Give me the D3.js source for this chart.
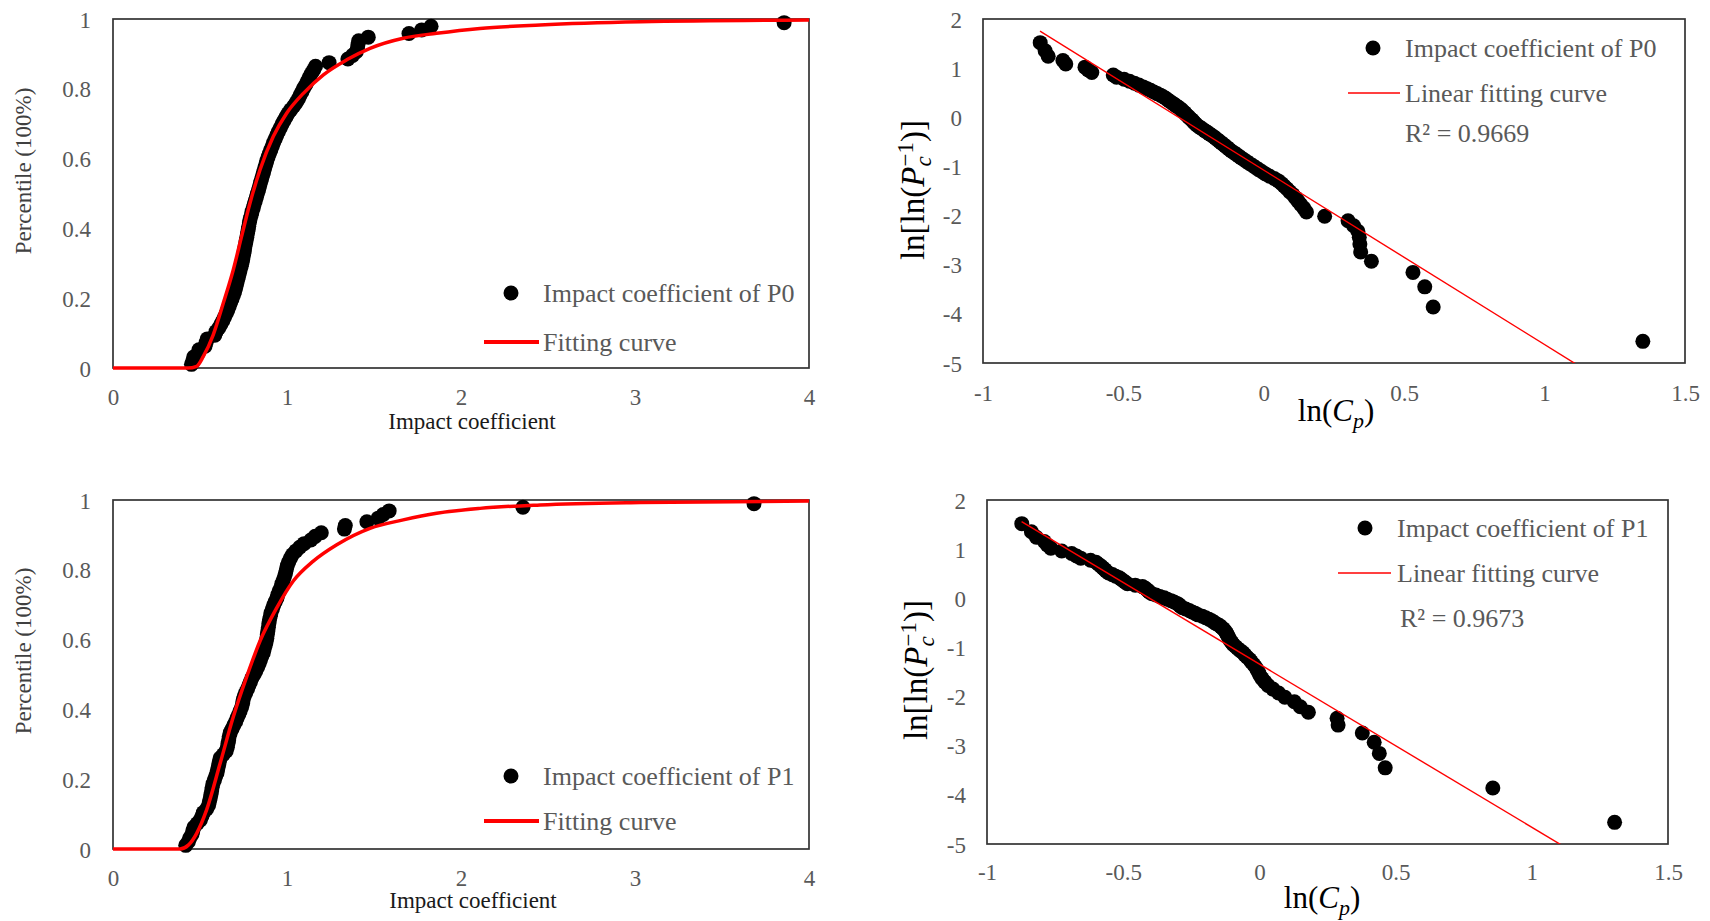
<!DOCTYPE html>
<html>
<head>
<meta charset="utf-8">
<script src="https://cdn.jsdelivr.net/npm/d3@7"></script>
<style>
  body { margin: 0; background: #fff; }
  svg { display: block; }
  text { font-family: "Liberation Serif", "Times New Roman", serif; }
</style>
</head>
<body>
<svg id="chart" width="1710" height="921"></svg>
<script>
(function () {
    // impact coefficients, sorted, P0 and P1
    const cpP0 = [0.451, 0.459, 0.464, 0.489, 0.494, 0.529, 0.535, 0.542, 0.585, 0.592,
        0.608, 0.620, 0.631, 0.641, 0.651, 0.660, 0.668, 0.676, 0.684, 0.692,
        0.699, 0.705, 0.710, 0.715, 0.721, 0.726, 0.731, 0.737, 0.742, 0.746,
        0.750, 0.754, 0.757, 0.761, 0.765, 0.769, 0.773, 0.777, 0.780, 0.784,
        0.788, 0.794, 0.799, 0.806, 0.811, 0.818, 0.824, 0.830, 0.837, 0.842,
        0.848, 0.854, 0.860, 0.866, 0.872, 0.878, 0.884, 0.891, 0.899, 0.907,
        0.915, 0.923, 0.932, 0.941, 0.950, 0.961, 0.971, 0.982, 0.994, 1.006,
        1.021, 1.038, 1.053, 1.065, 1.075, 1.086, 1.096, 1.109, 1.119, 1.129,
        1.140, 1.153, 1.164, 1.242, 1.350, 1.377, 1.398, 1.405, 1.408, 1.412,
        1.467, 1.701, 1.774, 1.828, 3.857];

    const cpP1 = [0.418, 0.433, 0.441, 0.454, 0.459, 0.465, 0.484, 0.502, 0.511, 0.519,
        0.538, 0.549, 0.554, 0.559, 0.563, 0.567, 0.570, 0.575, 0.583, 0.590,
        0.598, 0.602, 0.607, 0.611, 0.616, 0.634, 0.651, 0.657, 0.661, 0.665,
        0.668, 0.674, 0.684, 0.694, 0.705, 0.713, 0.723, 0.731, 0.739, 0.745,
        0.748, 0.754, 0.763, 0.773, 0.781, 0.790, 0.798, 0.811, 0.821, 0.831,
        0.840, 0.847, 0.855, 0.864, 0.869, 0.875, 0.880, 0.884, 0.887, 0.890,
        0.893, 0.896, 0.899, 0.904, 0.908, 0.916, 0.923, 0.932, 0.942, 0.948,
        0.956, 0.965, 0.971, 0.979, 0.986, 0.992, 0.997, 1.002, 1.010, 1.020,
        1.032, 1.051, 1.073, 1.098, 1.137, 1.162, 1.197, 1.330, 1.335, 1.459,
        1.524, 1.553, 1.587, 2.356, 3.684];

    // fitted CDF curves [impact coefficient, percentile]
    const fitCurveP0 = [[0, 0], [0.43, 0], [0.481, 0.005], [0.519, 0.033], [0.576, 0.095],
        [0.634, 0.186], [0.691, 0.281], [0.739, 0.377], [0.787, 0.472], [0.845, 0.568],
        [0.921, 0.663], [0.998, 0.730], [1.094, 0.787], [1.209, 0.840], [1.343, 0.883],
        [1.477, 0.916], [1.668, 0.945], [1.86, 0.959], [2.109, 0.973], [2.454, 0.983],
        [3.03, 0.992], [4.0, 0.997]];
    const fitCurveP1 = [[0, 0], [0.385, 0], [0.433, 0.011], [0.481, 0.045], [0.538, 0.112],
        [0.615, 0.244], [0.691, 0.378], [0.768, 0.493], [0.845, 0.596], [0.941, 0.691],
        [1.036, 0.768], [1.151, 0.825], [1.286, 0.872], [1.477, 0.919], [1.668, 0.943],
        [1.86, 0.962], [2.109, 0.976], [2.454, 0.986], [3.03, 0.993], [4.0, 0.997]];

    // linear fitting lines [ln(Cp), ln(ln(1/P))] end points
    const linFitP0 = [[-0.797, 1.754], [1.35, -5.868]];
    const linFitP1 = [[-0.873, 1.558], [1.304, -5.669]];

    const seriesNames = ["Impact coefficient of P0", "Impact coefficient of P1"];
    const r2Labels = ["R\u00B2 = 0.9669", "R\u00B2 = 0.9673"];
    const cdfXTicks = [0, 1, 2, 3, 4];
    const cdfYTicks = [0, 0.2, 0.4, 0.6, 0.8, 1];
    const lnXTicks = [-1, -0.5, 0, 0.5, 1, 1.5];
    const lnYTicks = [2, 1, 0, -1, -2, -3, -4, -5];

    const svg = d3.select("#chart");
    const fmt = d => String(d);
    const tickColor = "#595959";
    const dotR = 7.5;

    function styleAxis(g) {
        g.select(".domain").remove();
        g.attr("font-family", null).attr("font-size", null);
        g.selectAll("text").attr("fill", tickColor).style("font-size", "23px");
    }

    function drawBox(g, box) {
        g.append("rect")
            .attr("x", box.l).attr("y", box.t)
            .attr("width", box.r - box.l).attr("height", box.b - box.t)
            .attr("fill", "none").attr("stroke", "#333").attr("stroke-width", 1.7);
    }

    function cdfPanel(cfg) {
        const box = cfg.box;
        const g = svg.append("g");
        const x = d3.scaleLinear().domain([0, 4]).range([box.l, box.r]);
        const y = d3.scaleLinear().domain([0, 1]).range([box.b, box.t]);
        const pts = cfg.cp.map((c, i) => ({ c: c, p: (i + 1) / (cfg.cp.length + 1) }));

        drawBox(g, box);

        g.append("g").attr("transform", `translate(0,${box.b})`)
            .call(d3.axisBottom(x).tickValues(cdfXTicks).tickSize(0).tickFormat(fmt))
            .call(styleAxis)
            .selectAll("text").attr("y", 29).attr("dy", "0.35em");
        g.append("g").attr("transform", `translate(${box.l},0)`)
            .call(d3.axisLeft(y).tickValues(cdfYTicks).tickSize(0).tickPadding(22).tickFormat(fmt))
            .call(styleAxis)
            .selectAll("text").attr("dy", "0.35em");

        g.append("g").selectAll("circle")
            .data(pts)
            .join("circle")
            .attr("cx", d => x(d.c))
            .attr("cy", d => y(d.p))
            .attr("r", dotR)
            .attr("fill", "black");

        const line = d3.line().x(d => x(d[0])).y(d => y(d[1])).curve(d3.curveMonotoneX);
        g.append("path").datum(cfg.fit)
            .attr("d", line)
            .attr("fill", "none").attr("stroke", "#ff0000").attr("stroke-width", 3.5);

        // axis titles
        g.append("text")
            .attr("x", cfg.xTitle[0]).attr("y", cfg.xTitle[1]).attr("dy", "0.35em")
            .attr("text-anchor", "middle").attr("fill", "#1a1a1a")
            .style("font-size", "23px").text("Impact coefficient");
        g.append("text")
            .attr("transform", `translate(${cfg.yTitle[0]},${cfg.yTitle[1]}) rotate(-90)`)
            .attr("dy", "0.35em").attr("text-anchor", "middle").attr("fill", "#404040")
            .style("font-size", "23px").text("Percentile (100%)");

        // legend
        const lg = cfg.legend;
        g.append("circle").attr("cx", lg.dotX).attr("cy", lg.dotY).attr("r", dotR).attr("fill", "black");
        g.append("text").attr("x", lg.textX).attr("y", lg.dotY).attr("dy", "0.35em")
            .attr("fill", tickColor).style("font-size", "26px").text(cfg.name);
        g.append("line").attr("x1", lg.lineX1).attr("x2", lg.lineX2)
            .attr("y1", lg.lineY).attr("y2", lg.lineY)
            .attr("stroke", "#ff0000").attr("stroke-width", 4);
        g.append("text").attr("x", lg.textX).attr("y", lg.lineY).attr("dy", "0.35em")
            .attr("fill", tickColor).style("font-size", "26px").text("Fitting curve");
    }

    function lnPanel(cfg, idx) {
        const box = cfg.box;
        const g = svg.append("g");
        const x = d3.scaleLinear().domain([-1, 1.5]).range([box.l, box.r]);
        const y = d3.scaleLinear().domain([-5, 2]).range([box.b, box.t]);
        const n = cfg.cp.length;
        const pts = cfg.cp.map((c, i) => {
            const p = (i + 1) / (n + 1);
            return { lx: Math.log(c), ly: Math.log(Math.log(1 / p)) };
        });

        const clipId = "clip" + idx;
        g.append("clipPath").attr("id", clipId).append("rect")
            .attr("x", box.l).attr("y", box.t)
            .attr("width", box.r - box.l).attr("height", box.b - box.t);

        drawBox(g, box);

        g.append("g").attr("transform", `translate(0,${box.b})`)
            .call(d3.axisBottom(x).tickValues(lnXTicks).tickSize(0).tickFormat(fmt))
            .call(styleAxis)
            .selectAll("text").attr("y", cfg.xTickGap).attr("dy", "0.35em");
        g.append("g").attr("transform", `translate(${box.l},0)`)
            .call(d3.axisLeft(y).tickValues(lnYTicks).tickSize(0).tickPadding(21).tickFormat(fmt))
            .call(styleAxis)
            .selectAll("text").attr("dy", "0.35em");

        g.append("g").selectAll("circle")
            .data(pts)
            .join("circle")
            .attr("cx", d => x(d.lx))
            .attr("cy", d => y(d.ly))
            .attr("r", dotR)
            .attr("fill", "black");

        g.append("line")
            .attr("clip-path", `url(#${clipId})`)
            .attr("x1", x(cfg.lin[0][0])).attr("y1", y(cfg.lin[0][1]))
            .attr("x2", x(cfg.lin[1][0])).attr("y2", y(cfg.lin[1][1]))
            .attr("stroke", "#ff0000").attr("stroke-width", 1.4);

        // x title ln(Cp)
        const xt = g.append("text")
            .attr("x", cfg.xTitle[0]).attr("y", cfg.xTitle[1]).attr("dy", "0.35em")
            .attr("text-anchor", "middle").attr("fill", "#000").style("font-size", "31px");
        xt.append("tspan").text("ln(");
        xt.append("tspan").attr("font-style", "italic").text("C");
        xt.append("tspan").attr("font-style", "italic").style("font-size", "22px").attr("dy", 7).text("p");
        xt.append("tspan").attr("dy", -7).text(")");

        // y title ln[ln(Pc^-1)]
        const yt = g.append("text")
            .attr("transform", `translate(${cfg.yTitle[0]},${cfg.yTitle[1]}) rotate(-90)`)
            .attr("dy", "0.35em").attr("text-anchor", "middle").attr("fill", "#000")
            .style("font-size", "33px");
        yt.append("tspan").text("ln[ln(");
        yt.append("tspan").attr("font-style", "italic").text("P");
        yt.append("tspan").attr("font-style", "italic").style("font-size", "23px").attr("dy", 7).text("c");
        yt.append("tspan").style("font-size", "23px").attr("dx", -10).attr("dy", -18).text("\u22121");
        yt.append("tspan").attr("dy", 11).text(")]");

        // legend
        const lg = cfg.legend;
        g.append("circle").attr("cx", lg.dotX).attr("cy", lg.dotY).attr("r", dotR).attr("fill", "black");
        g.append("text").attr("x", lg.textX).attr("y", lg.dotY).attr("dy", "0.35em")
            .attr("fill", tickColor).style("font-size", "26px").text(cfg.name);
        g.append("line").attr("x1", lg.lineX1).attr("x2", lg.lineX2)
            .attr("y1", lg.lineY).attr("y2", lg.lineY)
            .attr("stroke", "#ff0000").attr("stroke-width", 1.4);
        g.append("text").attr("x", lg.textX).attr("y", lg.lineY).attr("dy", "0.35em")
            .attr("fill", tickColor).style("font-size", "26px").text("Linear fitting curve");
        g.append("text").attr("x", lg.r2X).attr("y", lg.r2Y).attr("dy", "0.35em")
            .attr("fill", tickColor).style("font-size", "26px").text(cfg.r2);
    }

    cdfPanel({
        box: { l: 113, t: 19, r: 809, b: 368 }, cp: cpP0, fit: fitCurveP0, name: seriesNames[0],
        xTitle: [472, 421], yTitle: [23, 171],
        legend: { dotX: 511, dotY: 293, lineX1: 484, lineX2: 539, lineY: 342, textX: 543 }
    });
    cdfPanel({
        box: { l: 113, t: 500, r: 809, b: 849 }, cp: cpP1, fit: fitCurveP1, name: seriesNames[1],
        xTitle: [473, 900], yTitle: [23, 651],
        legend: { dotX: 511, dotY: 776, lineX1: 484, lineX2: 539, lineY: 821, textX: 543 }
    });
    lnPanel({
        box: { l: 983, t: 19, r: 1685, b: 363 }, cp: cpP0, lin: linFitP0, name: seriesNames[0], r2: r2Labels[0],
        xTickGap: 30, xTitle: [1336, 410], yTitle: [912, 190],
        legend: { dotX: 1373, dotY: 48, lineX1: 1348, lineX2: 1400, lineY: 93, textX: 1405, r2X: 1405, r2Y: 133 }
    }, 0);
    lnPanel({
        box: { l: 987, t: 500, r: 1668, b: 844 }, cp: cpP1, lin: linFitP1, name: seriesNames[1], r2: r2Labels[1],
        xTickGap: 28, xTitle: [1322, 897], yTitle: [915, 670],
        legend: { dotX: 1365, dotY: 528, lineX1: 1338, lineX2: 1391, lineY: 573, textX: 1397, r2X: 1400, r2Y: 618 }
    }, 1);
})();
</script>
</body>
</html>
